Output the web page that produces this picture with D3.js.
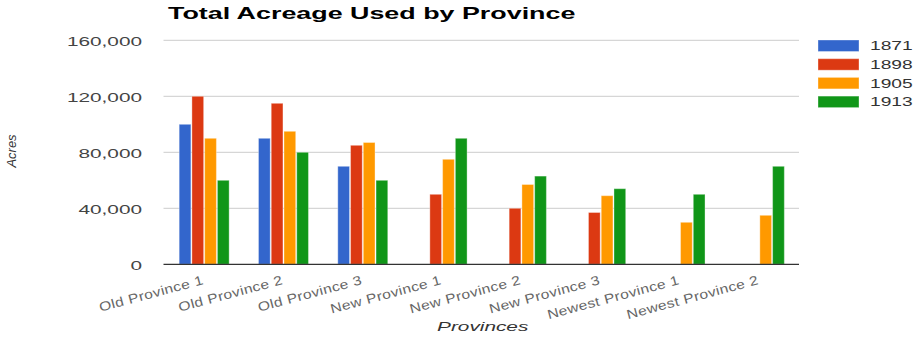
<html>
<head>
    <title>Total Acreage Used by Province</title>
    <script src="https://d3js.org/d3.v7.min.js"></script>
    <style>
        body { margin: 0; background: #fff; }
        text { font-family: "Liberation Sans", Arial, sans-serif; }
    </style>
</head>
<body>
    <svg id="graph" width="917" height="337"></svg>
    <script>
        // data
        const provinces = ["Old Province 1", "Old Province 2", "Old Province 3", "New Province 1",
                           "New Province 2", "New Province 3", "Newest Province 1", "Newest Province 2"];
        const years = ["1871", "1898", "1905", "1913"];
        const acres1871 = [100000, 90000, 70000, null, null, null, null, null];
        const acres1898 = [120000, 115000, 85000, 50000, 40000, 37000, null, null];
        const acres1905 = [90000, 95000, 87000, 75000, 57000, 49000, 30000, 35000];
        const acres1913 = [60000, 80000, 60000, 90000, 63000, 54000, 50000, 70000];
        const yTicks = [0, 40000, 80000, 120000, 160000];
        const colors = ["#3366cc", "#dc3912", "#ff9900", "#109618"];

        const series = [acres1871, acres1898, acres1905, acres1913];
        const stretch = 1.6; // horizontal text looks wide in the original

        let svg = d3.select("svg#graph");
        const plot = { left: 164.5, right: 799, top: 40.3, bottom: 264.3 };

        const xScale = d3.scaleBand().domain(provinces).range([plot.left, plot.right])
            .paddingInner(0.37).paddingOuter(0.185);
        const xInner = d3.scaleBand().domain(years).range([0, xScale.bandwidth()]).paddingInner(0.08);
        const yScale = d3.scaleLinear().domain([0, 160000]).range([plot.bottom, plot.top]);
        const color = d3.scaleOrdinal().domain(years).range(colors);

        // gridlines
        svg.append("g").selectAll("line").data(yTicks.filter(d => d > 0))
            .join("line")
            .attr("x1", plot.left - 1).attr("x2", plot.right)
            .attr("y1", d => yScale(d)).attr("y2", d => yScale(d))
            .attr("stroke", "#cccccc").attr("stroke-width", 1);

        // y tick labels
        svg.append("g").selectAll("g").data(yTicks)
            .join("g")
            .attr("transform", d => `translate(142, ${yScale(d) + 0.7})`)
            .append("text")
            .attr("transform", `scale(${stretch},1)`)
            .attr("text-anchor", "end")
            .attr("dy", "0.35em")
            .style("font-size", "13px")
            .attr("fill", "#444")
            .text(d => d3.format(",")(d));

        // bars
        let rows = [];
        provinces.forEach((p, i) => {
            years.forEach((y, j) => {
                if (series[j][i] != null) rows.push({ province: p, year: y, value: series[j][i] });
            });
        });

        svg.append("g").selectAll("rect").data(rows)
            .join("rect")
            .attr("x", d => xScale(d.province) + xInner(d.year))
            .attr("width", xInner.bandwidth())
            .attr("y", d => yScale(d.value))
            .attr("height", d => yScale(0) - yScale(d.value))
            .attr("fill", d => color(d.year))
            .attr("stroke", "#ffffff")
            .attr("stroke-opacity", 0.35)
            .attr("stroke-width", 1);

        // baseline
        svg.append("line")
            .attr("x1", plot.left - 1).attr("x2", plot.right)
            .attr("y1", yScale(0)).attr("y2", yScale(0))
            .attr("stroke", "#333").attr("stroke-width", 1.3);

        // slanted province labels
        svg.append("g").selectAll("g").data(provinces)
            .join("g")
            .attr("transform", d => `translate(${xScale(d) + xScale.bandwidth() / 2}, 284) rotate(-15)`)
            .append("text")
            .attr("transform", "scale(1.2,1)")
            .attr("text-anchor", "end")
            .style("font-size", "13px")
            .style("letter-spacing", "0.3px")
            .attr("fill", "#666")
            .text(d => d);

        // legend
        let legend = svg.append("g").selectAll("g").data(years)
            .join("g")
            .attr("transform", (d, i) => `translate(818, ${40 + i * 18.7})`);
        legend.append("rect")
            .attr("width", 41).attr("height", 11.5)
            .attr("fill", d => color(d))
            .attr("stroke", "#ffffff").attr("stroke-opacity", 0.35);
        legend.append("g")
            .attr("transform", "translate(52, 6)")
            .append("text")
            .attr("transform", `scale(${stretch},1)`)
            .attr("dy", "0.35em")
            .style("font-size", "12px")
            .attr("fill", "#333")
            .text(d => d);

        // title and axis titles
        svg.append("g").attr("transform", "translate(168, 19)")
            .append("text")
            .attr("transform", "scale(1.58,1)")
            .style("font-size", "17px")
            .style("font-weight", "bold")
            .attr("fill", "#000")
            .text("Total Acreage Used by Province");

        svg.append("g").attr("transform", "translate(482.7, 331)")
            .append("text")
            .attr("transform", `scale(${stretch},1)`)
            .attr("text-anchor", "middle")
            .style("font-size", "13px")
            .style("font-style", "italic")
            .attr("fill", "#333")
            .text("Provinces");

        svg.append("text")
            .attr("transform", "translate(16, 151) rotate(-90)")
            .attr("text-anchor", "middle")
            .style("font-size", "13px")
            .style("font-style", "italic")
            .attr("fill", "#333")
            .text("Acres");
    </script>
</body>
</html>
